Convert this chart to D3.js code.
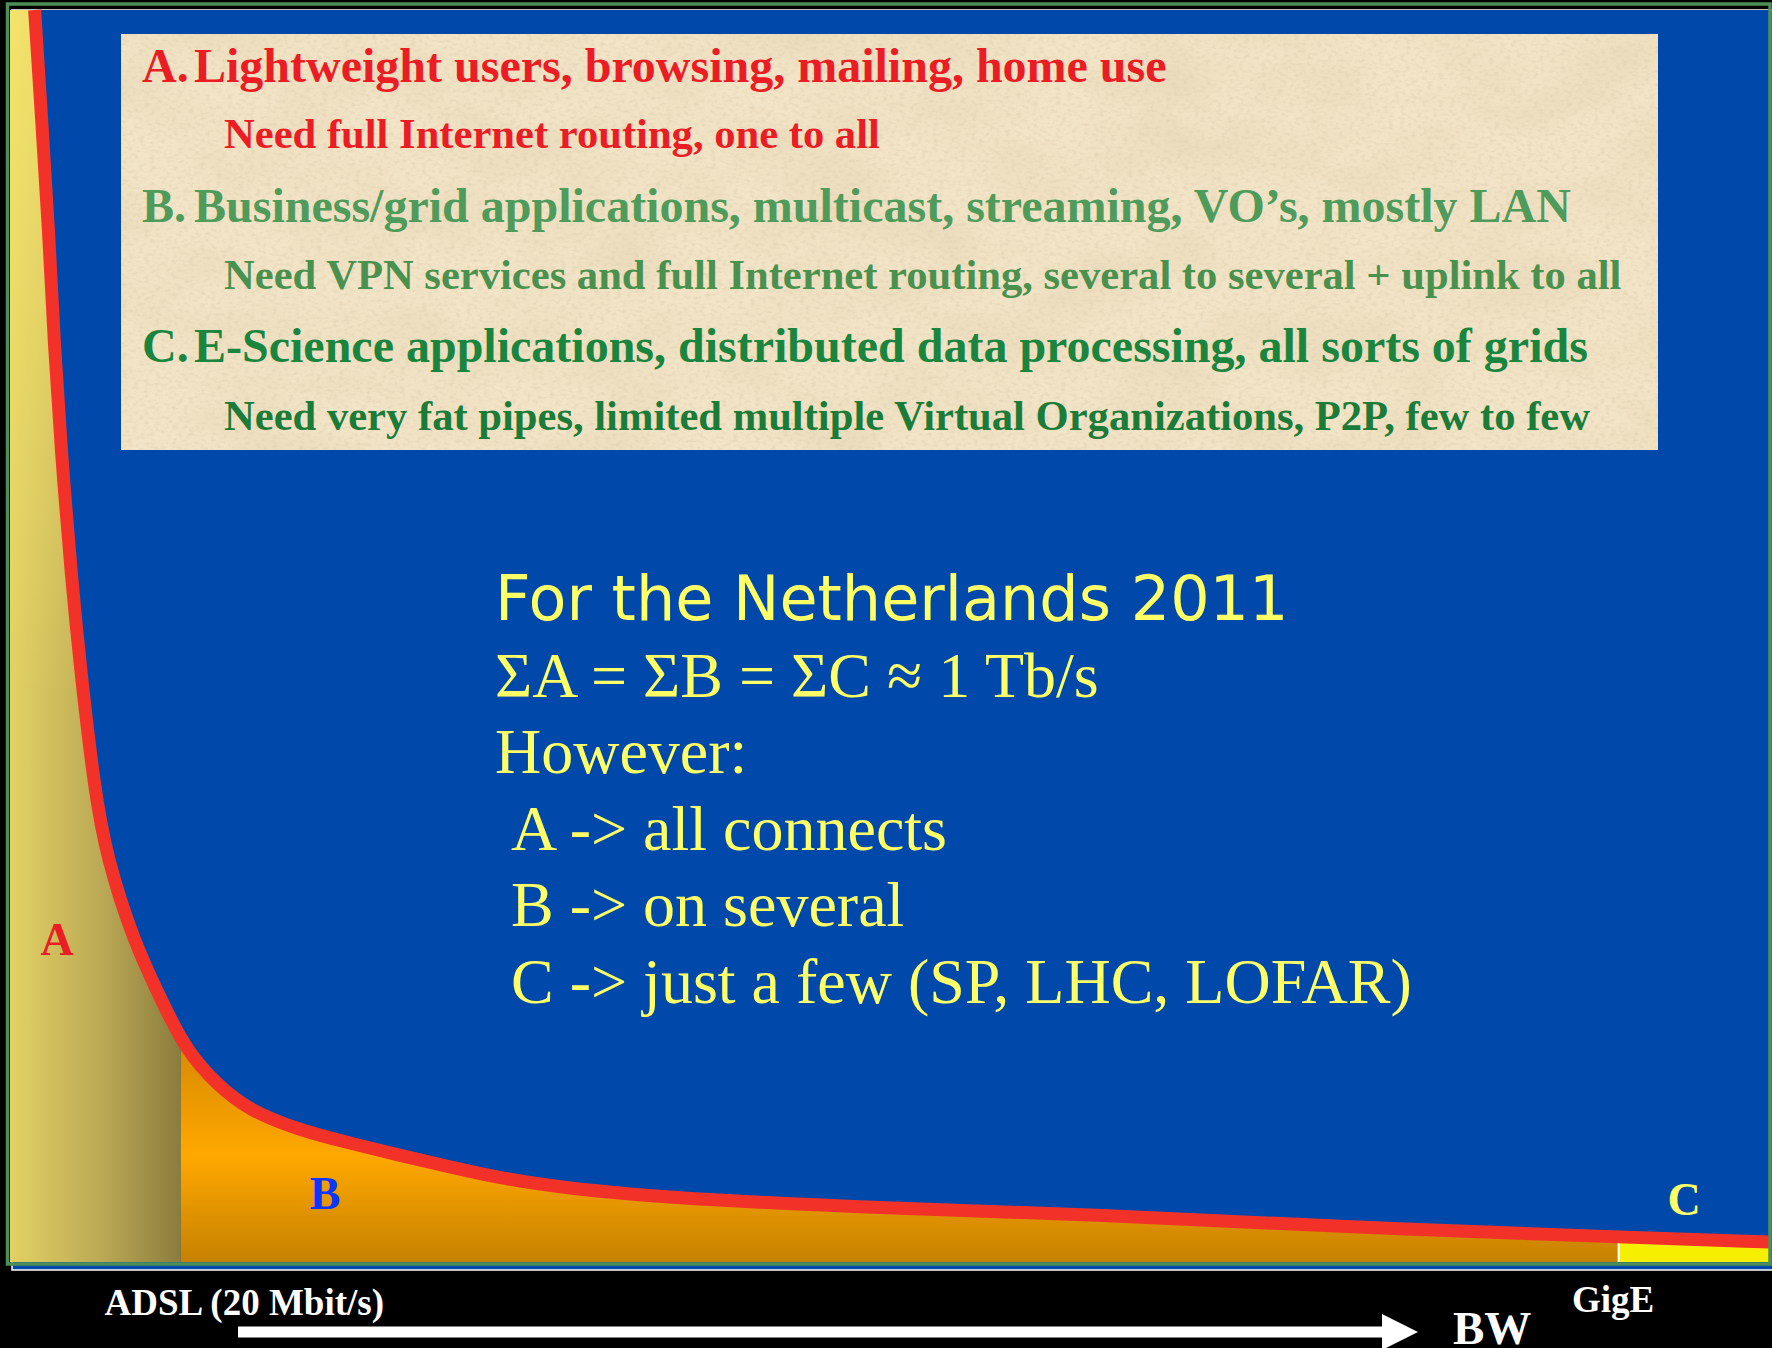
<!DOCTYPE html>
<html>
<head>
<meta charset="utf-8">
<script src="https://cdn.jsdelivr.net/npm/d3@7"></script>
<style>
  body { margin: 0; background: #000; }
  svg { display: block; }
</style>
</head>
<body>
<div id="chart"></div>
<script>
// long tail: relative bandwidth (0-100) vs relative number of users (0-100)
const bandwidth = [1.4, 1.8, 2.2, 2.5, 2.9, 3.5, 4.0, 4.8, 5.5, 7.0, 8.6, 10.0, 11.8, 13.6,
  16.5, 19.3, 22.2, 25.0, 27.8, 31.6, 35.4, 39.2, 49.4, 61.9, 75.6, 91.4, 100];
const users = [100, 91.2, 82.4, 73.6, 64.9, 54.5, 47.4, 37.7, 32.3, 25.7, 20.9, 16.9, 14.1, 12.1,
  10.5, 9.5, 8.5, 7.6, 6.7, 5.9, 5.4, 5.0, 4.3, 3.8, 2.8, 2.0, 1.6];

const classNames = ["A", "B", "C"];
const classBounds = [0, 9.7, 91.4, 100];
const tickLabels = ["ADSL (20 Mbit/s)", "GigE"];

const classLetters = ["A.", "B.", "C."];
const classTitles = [
  "Lightweight users, browsing, mailing, home use",
  "Business/grid applications, multicast, streaming, VO\u2019s, mostly LAN",
  "E-Science applications, distributed data processing, all sorts of grids"
];
const classNeeds = [
  "Need full Internet routing, one to all",
  "Need VPN services and full Internet routing, several to several + uplink to all",
  "Need very fat pipes, limited multiple Virtual Organizations, P2P, few to few"
];

const notes = [
  "For the Netherlands 2011",
  "\u03a3A = \u03a3B = \u03a3C \u2248 1 Tb/s",
  "However:",
  "\u00a0A -> all connects",
  "\u00a0B -> on several",
  "\u00a0C -> just a few (SP, LHC, LOFAR)"
];

function renderLongTail() {
  const width = 1772;
  const height = 1348;
  const serif = "'Liberation Serif', 'Times New Roman', Times, serif";
  const blue = "#0049ab";

  const svg = d3.select("#chart")
    .append("svg")
    .attr("width", width)
    .attr("height", height);

  svg.append("rect")
    .attr("width", width)
    .attr("height", height)
    .attr("fill", "#000");

  const plot = { left: 10, right: 1770, top: 10, bottom: 1262 };

  const x = d3.scaleLinear().domain([0, 100]).range([plot.left, plot.right]);
  const y = d3.scaleLinear().domain([0, 100]).range([plot.bottom, plot.top]);

  const data = bandwidth.map((b, i) => ({ bw: b, users: users[i] }));
  const bands = classNames.map((c, i) => ({ name: c, x0: classBounds[i], x1: classBounds[i + 1] }));

  const defs = svg.append("defs");

  const gradA = defs.append("linearGradient")
    .attr("id", "grad-a")
    .attr("gradientUnits", "userSpaceOnUse")
    .attr("x1", x(classBounds[0])).attr("x2", x(classBounds[1]))
    .attr("y1", 0).attr("y2", 0);
  gradA.append("stop").attr("offset", 0).attr("stop-color", "#e3d164");
  gradA.append("stop").attr("offset", 0.55).attr("stop-color", "#baa855");
  gradA.append("stop").attr("offset", 1).attr("stop-color", "#8a7c3d");

  const gradAtop = defs.append("linearGradient")
    .attr("id", "grad-a-top")
    .attr("gradientUnits", "userSpaceOnUse")
    .attr("x1", 0).attr("x2", 0)
    .attr("y1", y(100)).attr("y2", y(45));
  gradAtop.append("stop").attr("offset", 0).attr("stop-color", "#fff070").attr("stop-opacity", 0.6);
  gradAtop.append("stop").attr("offset", 1).attr("stop-color", "#fff070").attr("stop-opacity", 0);

  const gradB = defs.append("linearGradient")
    .attr("id", "grad-b")
    .attr("gradientUnits", "userSpaceOnUse")
    .attr("x1", 0).attr("x2", 0)
    .attr("y1", y(17)).attr("y2", y(0));
  gradB.append("stop").attr("offset", 0).attr("stop-color", "#d98b00");
  gradB.append("stop").attr("offset", 0.5).attr("stop-color", "#ffa800");
  gradB.append("stop").attr("offset", 1).attr("stop-color", "#c68100");

  // parchment texture: soft blotches plus fine grain
  const paper = defs.append("filter")
    .attr("id", "paper")
    .attr("x", 0).attr("y", 0).attr("width", 1).attr("height", 1);
  paper.append("feTurbulence")
    .attr("type", "fractalNoise")
    .attr("baseFrequency", "0.009 0.016")
    .attr("numOctaves", 5)
    .attr("seed", 7)
    .attr("result", "blotchNoise");
  paper.append("feColorMatrix")
    .attr("in", "blotchNoise")
    .attr("type", "matrix")
    .attr("values", "0 0 0 0 0.80  0 0 0 0 0.68  0 0 0 0 0.48  1.3 0 0 0 -0.48")
    .attr("result", "blotch");
  paper.append("feTurbulence")
    .attr("type", "fractalNoise")
    .attr("baseFrequency", "0.18 0.3")
    .attr("numOctaves", 3)
    .attr("seed", 3)
    .attr("result", "grainNoise");
  paper.append("feColorMatrix")
    .attr("in", "grainNoise")
    .attr("type", "matrix")
    .attr("values", "0 0 0 0 0.76  0 0 0 0 0.64  0 0 0 0 0.45  1.6 0 0 0 -0.72")
    .attr("result", "grain");
  const merge = paper.append("feMerge");
  merge.append("feMergeNode").attr("in", "blotch");
  merge.append("feMergeNode").attr("in", "grain");

  // slide background
  svg.append("rect")
    .attr("x", 12).attr("y", 10)
    .attr("width", width).attr("height", 1260)
    .attr("fill", blue)
    .attr("stroke", "#fff")
    .attr("stroke-width", 1.5);

  // class bands below the curve
  const fills = { A: "url(#grad-a)", B: "url(#grad-b)", C: "#f6f000" };
  svg.append("g")
    .selectAll("rect")
    .data(bands)
    .join("rect")
    .attr("x", d => x(d.x0))
    .attr("y", y(100))
    .attr("width", d => x(d.x1) - x(d.x0))
    .attr("height", y(0) - y(100))
    .attr("fill", d => fills[d.name]);

  svg.append("rect")
    .attr("x", x(bands[0].x0))
    .attr("y", y(100))
    .attr("width", x(bands[0].x1) - x(bands[0].x0))
    .attr("height", y(0) - y(100))
    .attr("fill", "url(#grad-a-top)");

  svg.append("line")
    .attr("x1", x(classBounds[2])).attr("x2", x(classBounds[2]))
    .attr("y1", y(0)).attr("y2", y(10))
    .attr("stroke", "#fff")
    .attr("stroke-width", 2);

  // blue above the curve
  const sky = d3.area()
    .x(d => x(d.bw))
    .y0(y(100))
    .y1(d => y(d.users))
    .curve(d3.curveBasis);

  svg.append("path")
    .datum(data)
    .attr("fill", blue)
    .attr("d", sky);

  const line = d3.line()
    .x(d => x(d.bw))
    .y(d => y(d.users))
    .curve(d3.curveBasis);

  svg.append("path")
    .datum(data)
    .attr("fill", "none")
    .attr("stroke", "#f23229")
    .attr("stroke-width", 13)
    .attr("d", line);

  // class letters inside the bands
  const letterPos = [[57, 955], [325, 1209], [1684, 1215]];
  const letterColors = ["#ec1c24", "#0a36ff", "#ffff66"];
  svg.append("g")
    .selectAll("text")
    .data(classNames)
    .join("text")
    .attr("x", (d, i) => letterPos[i][0])
    .attr("y", (d, i) => letterPos[i][1])
    .attr("text-anchor", "middle")
    .style("font-family", serif)
    .style("font-weight", "bold")
    .style("font-size", "46px")
    .attr("fill", (d, i) => letterColors[i])
    .text(d => d);

  // description box
  const box = svg.append("g");
  box.append("rect")
    .attr("x", 121).attr("y", 34)
    .attr("width", 1537).attr("height", 416)
    .attr("fill", "#f2e4c6");
  box.append("rect")
    .attr("x", 121).attr("y", 34)
    .attr("width", 1537).attr("height", 416)
    .attr("fill", "#fff")
    .attr("filter", "url(#paper)");

  const titleColors = ["#ec1c24", "#4f9b5c", "#1a853f"];
  const needColors = ["#ec1c24", "#4a9150", "#1b7b38"];

  classTitles.forEach((t, i) => {
    const row = box.append("g")
      .style("font-family", serif)
      .style("font-weight", "bold");
    row.append("text")
      .attr("x", 142)
      .attr("y", 82 + i * 140)
      .attr("fill", titleColors[i])
      .style("font-size", "48px")
      .text(classLetters[i]);
    row.append("text")
      .attr("x", 194)
      .attr("y", 82 + i * 140)
      .attr("fill", titleColors[i])
      .style("font-size", "48px")
      .text(t);
    row.append("text")
      .attr("x", 224)
      .attr("y", 148 + i * 141)
      .attr("fill", needColors[i])
      .style("font-size", "42.6px")
      .text(classNeeds[i]);
  });

  // notes in the middle
  svg.append("g")
    .selectAll("text")
    .data(notes)
    .join("text")
    .attr("x", 495)
    .attr("y", (d, i) => 620 + i * 76.6)
    .attr("fill", "#ffff66")
    .style("font-family", (d, i) => i === 0 ? "'DejaVu Sans', Verdana, sans-serif" : serif)
    .style("font-size", (d, i) => i === 0 ? "62px" : "64px")
    .text(d => d);

  // bandwidth axis
  const xAxis = d3.axisBottom(x)
    .tickValues(classBounds.slice(1, 3))
    .tickFormat((d, i) => tickLabels[i])
    .tickSize(0);

  const axisG = svg.append("g")
    .attr("transform", `translate(0,${plot.bottom})`)
    .call(xAxis);
  axisG.select(".domain").remove();
  axisG.selectAll("text")
    .attr("y", (d, i) => i === 0 ? 53 : 50)
    .attr("dy", 0)
    .attr("dx", (d, i) => i === 0 ? 63 : -6)
    .attr("fill", "#fff")
    .style("font-family", serif)
    .style("font-weight", "bold")
    .style("font-size", "37px");

  svg.append("line")
    .attr("x1", 238).attr("x2", 1386)
    .attr("y1", 1332).attr("y2", 1332)
    .attr("stroke", "#fff")
    .attr("stroke-width", 11);

  svg.append("path")
    .attr("d", "M1382,1314 L1418,1332 L1382,1350 Z")
    .attr("fill", "#fff");

  svg.append("text")
    .attr("x", 1453)
    .attr("y", 1344)
    .attr("fill", "#fff")
    .style("font-family", serif)
    .style("font-weight", "bold")
    .style("font-size", "47px")
    .text("BW");

  // frame
  svg.append("rect")
    .attr("x", 7.5).attr("y", 4)
    .attr("width", 1762.5).attr("height", 1260)
    .attr("fill", "none")
    .attr("stroke", "#4d8f57")
    .attr("stroke-width", 3.5);
}

renderLongTail();
</script>
</body>
</html>
